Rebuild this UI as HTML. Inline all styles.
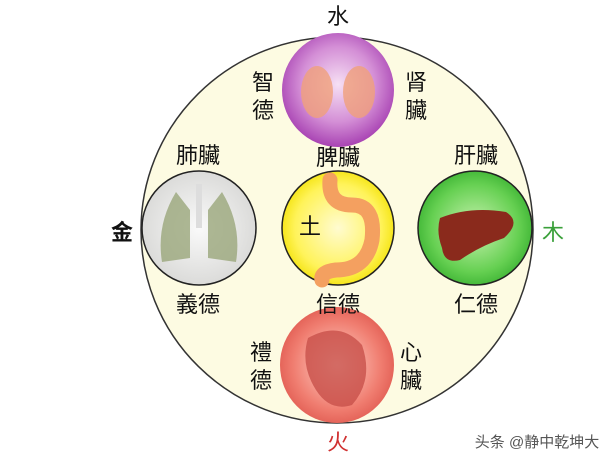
<!DOCTYPE html>
<html><head><meta charset="utf-8"><style>
body{margin:0;background:#fff;width:612px;height:459px;overflow:hidden}
svg text{font-family:"Liberation Sans","Noto Sans CJK SC",sans-serif;text-anchor:middle}
</style></head><body>
<svg width="612" height="459" viewBox="0 0 612 459">
<defs>
<radialGradient id="pu" cx="50%" cy="45%" r="55%"><stop offset="0" stop-color="#f6e0f4"/><stop offset="0.6" stop-color="#d48fd6"/><stop offset="1" stop-color="#a843b3"/></radialGradient>
<radialGradient id="ye" cx="50%" cy="50%" r="55%"><stop offset="0" stop-color="#fffbd0"/><stop offset="0.7" stop-color="#fff35a"/><stop offset="1" stop-color="#f2e000"/></radialGradient>
<radialGradient id="gr" cx="50%" cy="50%" r="55%"><stop offset="0" stop-color="#c8f2b0"/><stop offset="0.7" stop-color="#66d052"/><stop offset="1" stop-color="#38b030"/></radialGradient>
<radialGradient id="re" cx="50%" cy="50%" r="55%"><stop offset="0" stop-color="#ffd6cc"/><stop offset="0.7" stop-color="#f07d70"/><stop offset="1" stop-color="#e05a50"/></radialGradient>
<radialGradient id="gy" cx="50%" cy="50%" r="55%"><stop offset="0" stop-color="#fafafa"/><stop offset="1" stop-color="#d8d8d6"/></radialGradient>
</defs>
<ellipse cx="337" cy="230" rx="196" ry="193" fill="#fdfbe2" stroke="#333" stroke-width="1.5"/>
<ellipse cx="338" cy="90" rx="56" ry="57" fill="url(#pu)"/>
<ellipse cx="317" cy="92" rx="16" ry="26" fill="#f0a07a" opacity=".8"/>
<ellipse cx="359" cy="92" rx="16" ry="26" fill="#f0a07a" opacity=".8"/>
<ellipse cx="199" cy="228" rx="57" ry="57" fill="url(#gy)" stroke="#222" stroke-width="1.5"/>
<path d="M176 192 Q156 225 162 262 L190 258 L190 210 Z" fill="#9aa67a" opacity=".8"/>
<path d="M222 192 Q242 225 236 262 L208 258 L208 210 Z" fill="#9aa67a" opacity=".8"/>
<rect x="196" y="184" width="6" height="44" fill="#ddd"/>
<ellipse cx="338" cy="228" rx="56" ry="57" fill="url(#ye)" stroke="#222" stroke-width="1.5"/>
<path d="M330 180 Q328 205 352 205 Q376 205 372 240 Q366 270 336 270 Q320 272 322 280" fill="none" stroke="#f4a060" stroke-width="15" stroke-linecap="round"/>
<ellipse cx="475" cy="228" rx="57" ry="57" fill="url(#gr)" stroke="#222" stroke-width="1.5"/>
<path d="M440 218 Q470 206 506 212 Q522 222 504 238 Q480 246 460 260 Q444 264 442 248 Q436 232 440 218Z" fill="#8a2a1c"/>
<ellipse cx="337" cy="365" rx="57" ry="58" fill="url(#re)"/>
<path d="M308 338 Q340 320 362 345 Q374 380 352 405 Q330 412 316 390 Q300 365 308 338Z" fill="#c8504a" opacity=".8"/>
<g font-size="22" fill="#111">
<text x="338" y="24">水</text>
<text x="263" y="90">智</text><text x="263" y="118">德</text>
<text x="416" y="90">肾</text><text x="416" y="118">臟</text>
<text x="198" y="163">肺臟</text>
<text x="338" y="165">脾臟</text>
<text x="476" y="163">肝臟</text>
<text x="122" y="240" font-weight="bold">金</text>
<text x="553" y="240" fill="#3aa03a">木</text>
<text x="310" y="234">土</text>
<text x="198" y="312">義德</text>
<text x="338" y="312">信德</text>
<text x="476" y="312">仁德</text>
<text x="261" y="360">禮</text><text x="261" y="388">德</text>
<text x="411" y="360">心</text><text x="411" y="388">臟</text>
<text x="338" y="450" fill="#d03030">火</text>
</g>
<text x="537" y="447" font-size="15" fill="#555">头条 @静中乾坤大</text>
</svg>
</body></html>
